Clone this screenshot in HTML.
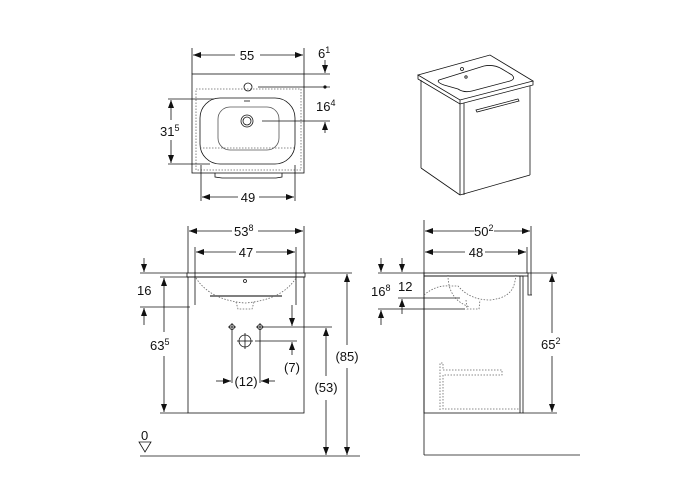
<!DOCTYPE html>
<html><head><meta charset="utf-8"><style>
html,body{margin:0;padding:0;background:#fff}
svg{display:block}
text{font-family:"Liberation Sans",sans-serif;font-size:13px;fill:#111}
.s{font-size:9px}
</style></head><body>
<svg width="700" height="500" viewBox="0 0 700 500" xmlns="http://www.w3.org/2000/svg">
<defs>
<marker id="a" markerWidth="8" markerHeight="6" refX="8" refY="3" orient="auto" markerUnits="userSpaceOnUse"><path d="M0,0L8,3L0,6z" fill="#111"/></marker>
</defs>
<g stroke="#111" stroke-width="0.8" fill="none">
<!-- TOP VIEW -->
<line x1="192" y1="48" x2="192" y2="74"/><line x1="304" y1="48" x2="304" y2="74"/>
<line x1="235" y1="55" x2="193" y2="55" marker-end="url(#a)"/><line x1="260" y1="55" x2="303" y2="55" marker-end="url(#a)"/>
<rect x="192" y="74" width="112" height="99"/>
<rect x="196" y="89" width="105" height="81" stroke-dasharray="1.5,1.5" stroke="#666"/>
<rect x="200" y="98" width="95" height="66" rx="20"/>
<rect x="218" y="107" width="61" height="43" rx="12" stroke="#555"/>
<line x1="200" y1="148" x2="295" y2="148" stroke-dasharray="1.5,1.5" stroke="#666"/>
<circle cx="247" cy="121" r="6"/><circle cx="247" cy="121" r="4"/>
<circle cx="248" cy="87" r="4"/>
<line x1="244" y1="101" x2="250" y2="101"/>
<path d="M215,173 L215,177 L222,178 L276,178 L282,177 L282,173"/>
<line x1="304" y1="74" x2="330" y2="74"/>
<line x1="325" y1="60" x2="325" y2="73" marker-end="url(#a)"/>
<line x1="258" y1="87" x2="330" y2="87"/><circle cx="325" cy="87" r="1.2" fill="#111"/>
<line x1="262" y1="121" x2="330" y2="121"/>
<line x1="325" y1="133" x2="325" y2="122" marker-end="url(#a)"/>
<line x1="168" y1="99" x2="214" y2="99"/><line x1="168" y1="164" x2="210" y2="164"/>
<line x1="171" y1="120" x2="171" y2="100" marker-end="url(#a)"/><line x1="171" y1="140" x2="171" y2="163" marker-end="url(#a)"/>
<line x1="201" y1="165" x2="201" y2="201"/><line x1="295" y1="165" x2="295" y2="201"/>
<line x1="238" y1="197" x2="202" y2="197" marker-end="url(#a)"/><line x1="259" y1="197" x2="294" y2="197" marker-end="url(#a)"/>

<!-- ISO VIEW -->
<path d="M418,75 L490,55 L533,81 L460,100 Z"/>
<path d="M418,75 L418,79 L460,104 L533,85 L533,81"/>
<line x1="460" y1="100" x2="460" y2="104"/>
<path d="M439,80 L484,66 Q494,64 502,69 L512,75 Q516,79 510,81 L472,91 Q464,93 458,89 L444,85 Q436,82 439,80 Z"/>
<circle cx="462" cy="69" r="1.5"/><circle cx="466" cy="77" r="1.2"/>
<line x1="421" y1="80" x2="421" y2="168"/><line x1="421" y1="168" x2="460" y2="195"/>
<line x1="460" y1="104" x2="460" y2="195"/><line x1="460" y1="195" x2="530" y2="175"/>
<line x1="530" y1="86" x2="530" y2="175"/>
<line x1="464" y1="103" x2="464" y2="195"/>
<path d="M476,110 L518,99 L519,101 L477,112 Z"/>

<!-- FRONT VIEW -->
<line x1="188" y1="226" x2="188" y2="273"/><line x1="304" y1="226" x2="304" y2="273"/>
<line x1="232" y1="231" x2="189" y2="231" marker-end="url(#a)"/><line x1="258" y1="231" x2="303" y2="231" marker-end="url(#a)"/>
<line x1="195" y1="247" x2="195" y2="305"/><line x1="296" y1="247" x2="296" y2="305"/>
<line x1="236" y1="252" x2="196" y2="252" marker-end="url(#a)"/><line x1="256" y1="252" x2="295" y2="252" marker-end="url(#a)"/>
<rect x="187" y="273" width="118" height="4"/>
<rect x="188" y="277" width="116" height="136"/>
<path d="M196,278 Q210,300 245,303 Q282,300 296,278" stroke-dasharray="1.5,1.5" stroke="#666"/>
<line x1="210" y1="296" x2="282" y2="296" stroke="#555" stroke-width="1.5"/>
<path d="M236,302 L238,309 L252,309 L254,302" stroke-dasharray="1.5,1.5" stroke="#666"/>
<circle cx="245" cy="281" r="1.5"/>
<line x1="140" y1="273" x2="187" y2="273"/>
<line x1="144" y1="258" x2="144" y2="272" marker-end="url(#a)"/>
<line x1="140" y1="307" x2="190" y2="307"/>
<line x1="144" y1="325" x2="144" y2="308" marker-end="url(#a)"/>
<line x1="160" y1="277" x2="188" y2="277"/><line x1="160" y1="413" x2="188" y2="413"/>
<line x1="164" y1="332" x2="164" y2="278" marker-end="url(#a)"/><line x1="164" y1="356" x2="164" y2="412" marker-end="url(#a)"/>
<line x1="292" y1="305" x2="292" y2="326" marker-end="url(#a)"/>
<line x1="262" y1="327" x2="332" y2="327"/>
<line x1="255" y1="341" x2="297" y2="341"/>
<line x1="292" y1="355" x2="292" y2="342" marker-end="url(#a)"/>
<circle cx="232" cy="327" r="2.5"/><line x1="228" y1="327" x2="236" y2="327"/><line x1="232" y1="323" x2="232" y2="383"/>
<circle cx="260" cy="327" r="2.5"/><line x1="256" y1="327" x2="264" y2="327"/><line x1="260" y1="323" x2="260" y2="383"/>
<circle cx="245" cy="341" r="6"/><line x1="237" y1="341" x2="253" y2="341"/><line x1="245" y1="333" x2="245" y2="349"/>
<line x1="216" y1="381" x2="231" y2="381" marker-end="url(#a)"/><line x1="275" y1="381" x2="261" y2="381" marker-end="url(#a)"/>
<line x1="305" y1="273" x2="352" y2="273"/>
<line x1="347" y1="345" x2="347" y2="274" marker-end="url(#a)"/><line x1="347" y1="368" x2="347" y2="455" marker-end="url(#a)"/>
<line x1="326" y1="376" x2="326" y2="328" marker-end="url(#a)"/><line x1="326" y1="400" x2="326" y2="455" marker-end="url(#a)"/>
<line x1="140" y1="456" x2="360" y2="456"/>
<path d="M139,442 L151,442 L145,452 Z"/>

<!-- SIDE VIEW -->
<line x1="424" y1="220" x2="424" y2="455"/><line x1="424" y1="455" x2="580" y2="455"/>
<line x1="531" y1="226" x2="531" y2="295"/>
<line x1="474" y1="231" x2="425" y2="231" marker-end="url(#a)"/><line x1="494" y1="231" x2="530" y2="231" marker-end="url(#a)"/>
<line x1="527" y1="247" x2="527" y2="273"/>
<line x1="465" y1="252" x2="425" y2="252" marker-end="url(#a)"/><line x1="485" y1="252" x2="526" y2="252" marker-end="url(#a)"/>
<rect x="424" y="273" width="104" height="3"/>
<rect x="424" y="276" width="99" height="137"/>
<line x1="520" y1="276" x2="520" y2="413"/>
<path d="M528,276 L528,295 L532,295"/>
<path d="M424,295 Q436,285 448,286 L458,286 Q470,300 490,300 Q510,298 514,285 Q516,278 516,273" stroke-dasharray="1.5,1.5" stroke="#666"/>
<path d="M448,275 Q448,300 470,307" stroke-dasharray="1.5,1.5" stroke="#666"/>
<path d="M466,300 L467,309 L479,309 L480,300" stroke-dasharray="1.5,1.5" stroke="#666"/>
<path d="M440,410 L440,363 L443,363 L443,370 L502,370 L502,375 L443,375 L443,409 L520,409" stroke-dasharray="1.5,1.5" stroke="#666"/>
<line x1="378" y1="273" x2="424" y2="273"/>
<line x1="381" y1="258" x2="381" y2="272" marker-end="url(#a)"/><line x1="402" y1="258" x2="402" y2="272" marker-end="url(#a)"/>
<line x1="398" y1="298" x2="460" y2="298"/>
<line x1="402" y1="314" x2="402" y2="299" marker-end="url(#a)"/>
<line x1="378" y1="309" x2="465" y2="309"/>
<line x1="381" y1="325" x2="381" y2="310" marker-end="url(#a)"/>
<line x1="528" y1="273" x2="557" y2="273"/><line x1="523" y1="413" x2="557" y2="413"/>
<line x1="552" y1="333" x2="552" y2="274" marker-end="url(#a)"/><line x1="552" y1="356" x2="552" y2="412" marker-end="url(#a)"/>
</g>
<!-- TEXT -->
<text x="247" y="60" text-anchor="middle">55</text>
<text x="318" y="58">6<tspan class="s" dy="-5">1</tspan></text>
<text x="316" y="111">16<tspan class="s" dy="-5">4</tspan></text>
<text x="160" y="136">31<tspan class="s" dy="-5">5</tspan></text>
<text x="248" y="202" text-anchor="middle">49</text>
<text x="234" y="236">53<tspan class="s" dy="-5">8</tspan></text>
<text x="246" y="257" text-anchor="middle">47</text>
<text x="137" y="295">16</text>
<text x="150" y="350">63<tspan class="s" dy="-5">5</tspan></text>
<text x="292" y="372" text-anchor="middle">(7)</text>
<text x="246" y="386" text-anchor="middle">(12)</text>
<text x="326" y="392" text-anchor="middle">(53)</text>
<text x="347" y="361" text-anchor="middle">(85)</text>
<text x="141" y="440">0</text>
<text x="474" y="236">50<tspan class="s" dy="-5">2</tspan></text>
<text x="476" y="257" text-anchor="middle">48</text>
<text x="371" y="296">16<tspan class="s" dy="-5">8</tspan></text>
<text x="398" y="291">12</text>
<text x="541" y="349">65<tspan class="s" dy="-5">2</tspan></text>
</svg>
</body></html>
